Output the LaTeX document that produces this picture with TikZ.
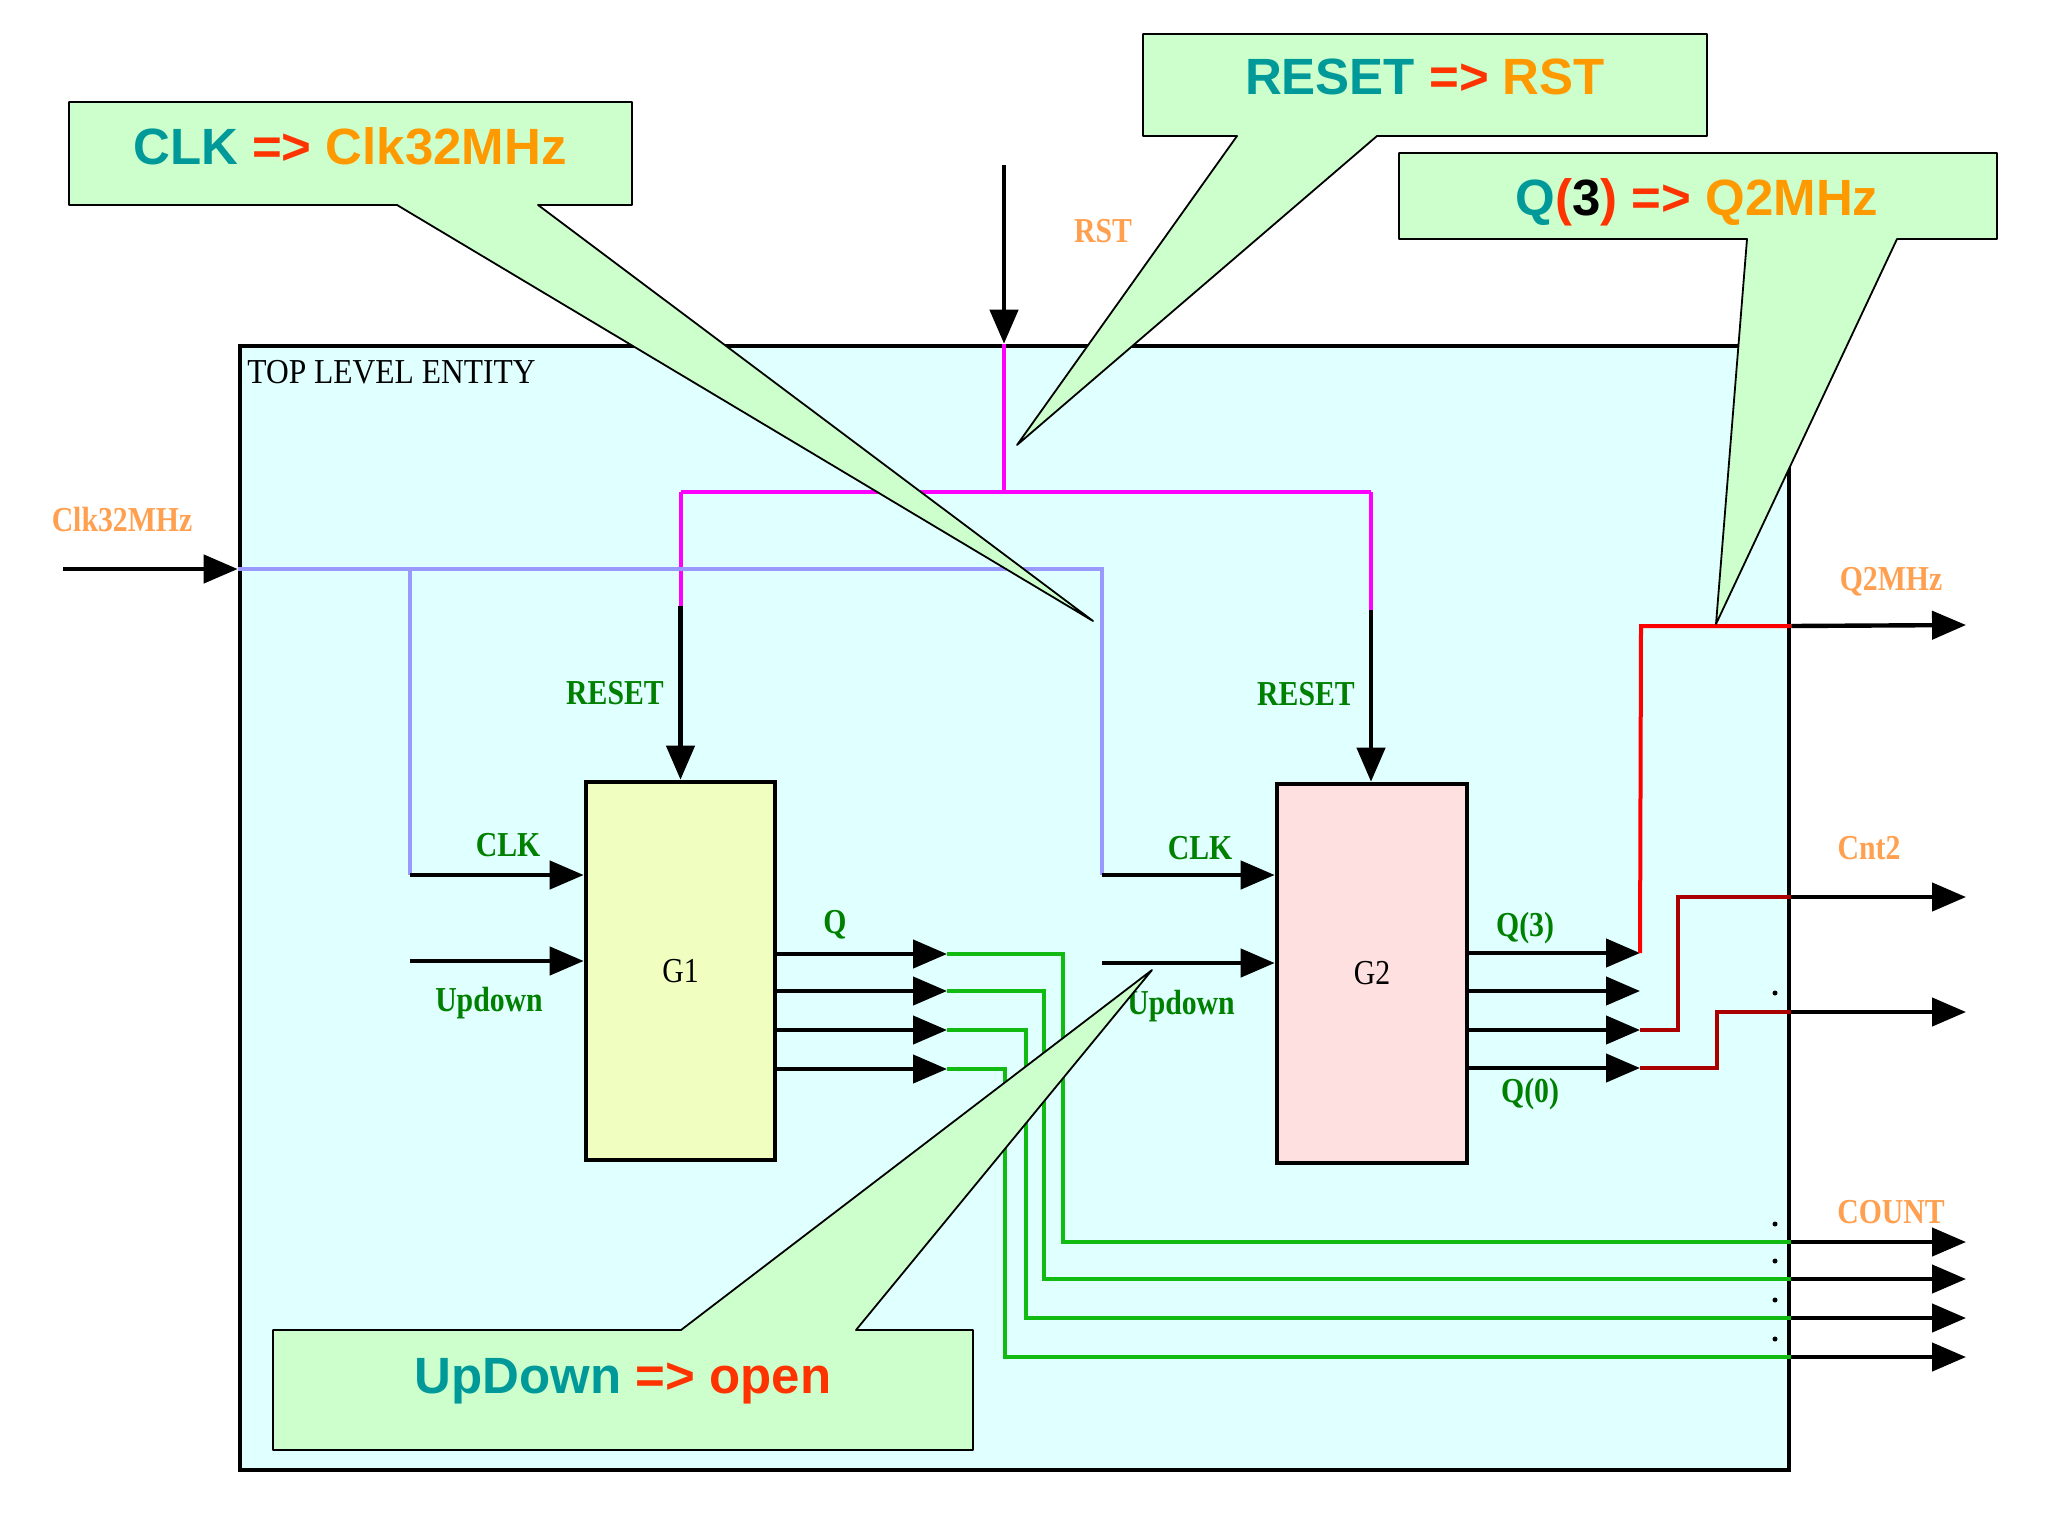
\documentclass[tikz,border=0pt]{standalone}
\usepackage{fontspec}
\setmainfont{Liberation Serif}
\newfontfamily\labfont[FakeStretch=0.85]{Liberation Serif}
\newfontfamily\titfont[FakeStretch=0.9]{Liberation Serif}
\newfontfamily\calfont{Liberation Sans}
\usetikzlibrary{arrows.meta}
\definecolor{entfill}{HTML}{E0FFFF}
\definecolor{calfill}{HTML}{CCFFCC}
\definecolor{gonefill}{HTML}{F0FFC0}
\definecolor{gtwofill}{HTML}{FFE0E0}
\definecolor{labgreen}{HTML}{008000}
\definecolor{laborange}{HTML}{FFA050}
\definecolor{cteal}{HTML}{009999}
\definecolor{cred}{HTML}{FF3300}
\definecolor{corange}{HTML}{FF9900}
\definecolor{wblue}{HTML}{9999FF}
\definecolor{wmag}{HTML}{FF00FF}
\definecolor{wgreen}{HTML}{11BB11}
\definecolor{wred}{HTML}{FF0000}
\definecolor{wdred}{HTML}{AA0000}
\begin{document}
\begin{tikzpicture}[x=0.5pt,y=-0.5pt,
  arr/.style={line width=2.2pt,-{Triangle[length=17pt,width=14pt]}},
  wire/.style={line width=2pt},
  blk/.style={draw=black,line width=2.3pt,font={\labfont\fontsize{17.5}{20}\selectfont}},
  lab/.style={font={\labfont\bfseries\fontsize{17.5}{20}\selectfont},text=labgreen,inner sep=0pt,anchor=base},
  olab/.style={lab,text=laborange},
  callout/.style={draw=black,fill=calfill,line width=0.9pt,line join=round},
  caltext/.style={font={\calfont\bfseries\fontsize{25.5}{30}\selectfont},inner sep=0pt,anchor=base},
  dotmark/.style={fill=black,circle,inner sep=0pt,minimum size=2.5pt}]
\path[use as bounding box,fill=white] (0,0) rectangle (2048,1536);

% top level entity
\node[draw=black,line width=2.3pt,fill=entfill,minimum width=774.5pt,minimum height=562pt,inner sep=0pt] (tle) at (1014.5,908) {};
\node[font={\titfont\fontsize{17.5}{20}\selectfont},inner sep=0pt,anchor=base west] (tletxt) at (247,383) {TOP LEVEL ENTITY};

% blocks
\node[blk,fill=gonefill,minimum width=94.5pt,minimum height=189pt] (G1) at (680.5,971) {G1};
\node[blk,fill=gtwofill,minimum width=95pt,minimum height=189.5pt] (G2) at (1372,973.5) {G2};

% RST
\coordinate (rstin) at (1004,165);
\coordinate (rstj) at (1004,492);
\coordinate (rl) at (680.5,492);
\coordinate (rr) at (1371,492);
\coordinate (rlb) at (680.5,606);
\coordinate (rrb) at (1371,610);
\draw[wire,wmag] (rstin |- tle.north) -- (rstj);
\draw[wire,wmag] (rl) -- (rr);
\draw[wire,wmag] (rl) -- (rlb);
\draw[wire,wmag] (rr) -- (rrb);
\draw[arr] (rstin) -- (rstin |- tle.north);
\draw[arr] (rlb) -- (rlb |- G1.north);
\draw[arr] (rrb) -- (rrb |- G2.north);

% CLK
\coordinate (clkin) at (63,569);
\coordinate (bl) at (410,569);
\coordinate (bl2) at (410,875);
\coordinate (br) at (1102,569);
\coordinate (br2) at (1102,875);
\draw[wire,wblue] (clkin -| tle.west) -- (br) -- (br2);
\draw[wire,wblue] (bl) -- (bl2);
\draw[arr] (clkin) -- (clkin -| tle.west);
\draw[arr] (bl2) -- (bl2 -| G1.west);
\draw[arr] (br2) -- (br2 -| G2.west);

% Updown
\coordinate (u1) at (410,961);
\coordinate (u2) at (1102,963);
\draw[arr] (u1) -- (u1 -| G1.west);
\draw[arr] (u2) -- (u2 -| G2.west);

% G1 outputs
\coordinate (qa) at (947,954);
\coordinate (qb) at (947,991);
\coordinate (qc) at (947,1030);
\coordinate (qd) at (947,1069);
\draw[arr] (qa -| G1.east) -- (qa);
\draw[arr] (qb -| G1.east) -- (qb);
\draw[arr] (qc -| G1.east) -- (qc);
\draw[arr] (qd -| G1.east) -- (qd);
\coordinate (ca) at (1063,1242);
\coordinate (cb) at (1044,1279);
\coordinate (cc) at (1026,1318);
\coordinate (cd) at (1005,1357);
\draw[wire,wgreen] (qa) -| (ca) -- (ca -| tle.east);
\draw[wire,wgreen] (qb) -| (cb) -- (cb -| tle.east);
\draw[wire,wgreen] (qc) -| (cc) -- (cc -| tle.east);
\draw[wire,wgreen] (qd) -| (cd) -- (cd -| tle.east);
\coordinate (ea) at (1966,1242);
\coordinate (eb) at (1966,1279);
\coordinate (ec) at (1966,1318);
\coordinate (ed) at (1966,1357);
\draw[arr] (ca -| tle.east) -- (ea);
\draw[arr] (cb -| tle.east) -- (eb);
\draw[arr] (cc -| tle.east) -- (ec);
\draw[arr] (cd -| tle.east) -- (ed);

% G2 outputs
\coordinate (pa) at (1640,953);
\coordinate (pb) at (1640,991);
\coordinate (pc) at (1640,1030);
\coordinate (pd) at (1640,1068);
\draw[arr] (pa -| G2.east) -- (pa);
\draw[arr] (pb -| G2.east) -- (pb);
\draw[arr] (pc -| G2.east) -- (pc);
\draw[arr] (pd -| G2.east) -- (pd);
\coordinate (qtop) at (1641,626);
\coordinate (da) at (1678,897);
\coordinate (db) at (1717,1012);
\draw[wire,wred] (pa) -- (qtop) -- (qtop -| tle.east);
\draw[wire,wdred] (pc) -| (da) -- (da -| tle.east);
\draw[wire,wdred] (pd) -| (db) -- (db -| tle.east);
\coordinate (qe) at (1966,625);
\coordinate (dae) at (1966,897);
\coordinate (dbe) at (1966,1012);
\draw[arr] (qtop -| tle.east) -- (qe);
\draw[arr] (da -| tle.east) -- (dae);
\draw[arr] (db -| tle.east) -- (dbe);

% dots
\node[dotmark] (d0) at (1775,993) {};
\node[dotmark] (d1) at (1775,1224) {};
\node[dotmark] (d2) at (1775,1261) {};
\node[dotmark] (d3) at (1775,1300) {};
\node[dotmark] (d4) at (1775,1339) {};

% labels
\node[olab] (lrst) at (1103,242) {RST};
\node[olab] (lclk) at (122,531) {Clk32MHz};
\node[olab] (lq2) at (1891,590) {Q2MHz};
\node[olab] (lcnt2) at (1869,859) {Cnt2};
\node[olab] (lcount) at (1891,1223) {COUNT};
\node[lab] (lres1) at (615,704) {RESET};
\node[lab] (lres2) at (1306,705) {RESET};
\node[lab] (lclk1) at (508,856) {CLK};
\node[lab] (lclk2) at (1200,859) {CLK};
\node[lab] (lup1) at (489,1011) {Updown};
\node[lab] (lup2) at (1181,1014) {Updown};
\node[lab] (lq) at (835,933) {Q};
\node[lab] (lq3) at (1525,936) {Q(3)};
\node[lab] (lq0) at (1530,1102) {Q(0)};

% callouts
\draw[callout] (69,102) -- (632,102) -- (632,205) -- (538,205) -- (1093,621) -- (397,205) -- (69,205) -- cycle;
\node[caltext] (t1) at (350,164) {\textcolor{cteal}{CLK} \textcolor{cred}{=>} \textcolor{corange}{Clk32MHz}};

\draw[callout] (1143,34) -- (1707,34) -- (1707,136) -- (1377,136) -- (1017,445) -- (1237,136) -- (1143,136) -- cycle;
\node[caltext] (t2) at (1425,95) {\textcolor{cteal}{RESET} \textcolor{cred}{=>} \textcolor{corange}{RST}};

\draw[callout] (1399,153) -- (1997,153) -- (1997,239) -- (1897,239) -- (1716,624) -- (1747,239) -- (1399,239) -- cycle;
\node[caltext] (t3) at (1697,215) {\textcolor{cteal}{Q}\textcolor{cred}{(}\textcolor{black}{3}\textcolor{cred}{)} \textcolor{cred}{=>} \textcolor{corange}{Q2MHz}};

\draw[callout] (273,1330) -- (681,1330) -- (1152,970) -- (856,1330) -- (973,1330) -- (973,1450) -- (273,1450) -- cycle;
\node[caltext] (t4) at (623,1393) {\textcolor{cteal}{UpDown} \textcolor{cred}{=>} \textcolor{cred}{open}};
\end{tikzpicture}
\end{document}
